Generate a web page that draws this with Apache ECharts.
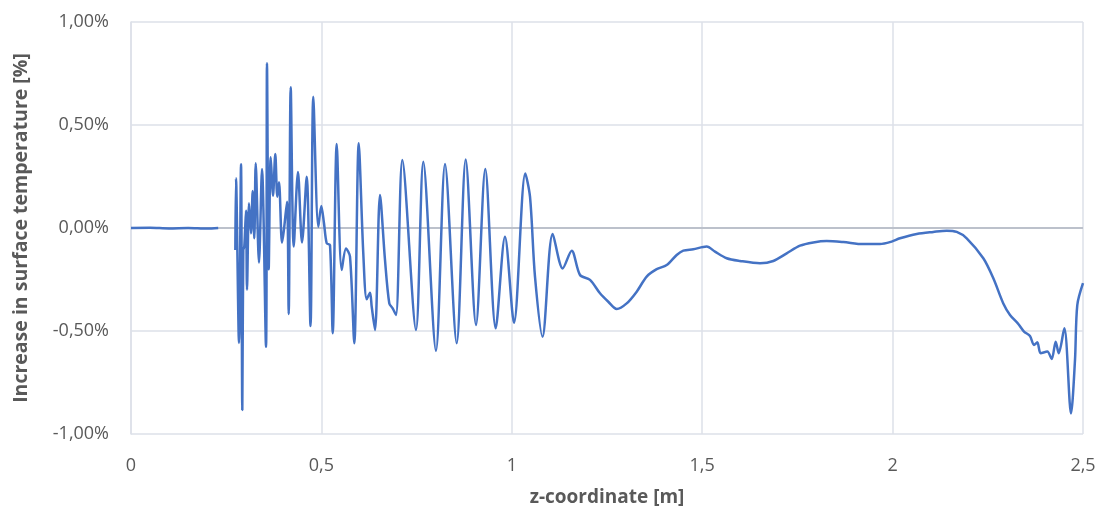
<!DOCTYPE html>
<html>
<head>
<meta charset="utf-8">
<script src="https://cdn.jsdelivr.net/npm/echarts@6/dist/echarts.min.js"></script>
<style>html,body{margin:0;padding:0;background:#fff}#c{width:1101px;height:516px}</style>
</head>
<body>
<div id="c"></div>
<script>
// z-coordinate [m]
const zCoord = [0, 0.05, 0.1, 0.15, 0.2, 0.229, 0.25,
  0.274, 0.2757, 0.2836, 0.2889, 0.2923, 0.2949, 0.2975, 0.302, 0.3046, 0.3099, 0.3151, 0.3196, 0.3238, 0.3275,
  0.3361, 0.344, 0.3545, 0.3571, 0.3616, 0.3669, 0.3729, 0.3789, 0.3842, 0.3887, 0.3965, 0.401, 0.4097, 0.4141,
  0.4194, 0.4273, 0.4385, 0.4491, 0.4614, 0.4714, 0.4787, 0.4919, 0.4997, 0.5068, 0.5139, 0.5226, 0.5297, 0.5402,
  0.5533, 0.5646, 0.5751, 0.5864, 0.598, 0.61, 0.619, 0.6276, 0.6321, 0.6408, 0.6539, 0.667, 0.6783, 0.6872, 0.6959,
  0.7125, 0.7484, 0.7676, 0.8009, 0.8246, 0.8553, 0.8789, 0.906, 0.9304, 0.9577, 0.9821, 1.0058, 1.0354, 1.0478,
  1.0609, 1.0806, 1.1074, 1.1337, 1.1573, 1.1791, 1.2054, 1.2316, 1.2534, 1.2755, 1.3017, 1.328, 1.3542, 1.3805,
  1.4068, 1.433, 1.4504, 1.4766, 1.5118, 1.5336, 1.5643, 1.5992, 1.6518, 1.6867, 1.7219, 1.7568, 1.7917, 1.8269,
  1.8705, 1.923, 1.9669, 1.9976, 2.0194, 2.0633, 2.1069, 2.1421, 2.1684, 2.1946, 2.2382, 2.2645, 2.2907, 2.3083,
  2.3301, 2.3451, 2.3608, 2.3713, 2.38, 2.3889, 2.4063, 2.4178, 2.4283, 2.4362, 2.4509, 2.4685, 2.479, 2.485, 2.5];
// increase in surface temperature [%]
const increase = [0, 0.001, -0.002, 0, -0.003, 0, null,
  -0.107, 0.241, -0.558, 0.309, -0.883, -0.107, -0.09, 0.084, -0.30, 0.12, -0.026, 0.18, -0.05, 0.314,
  -0.168, 0.286, -0.576, 0.80, -0.2, 0.343, 0.157, 0.359, 0.152, 0.222, -0.071, -0.018, 0.128, -0.417,
  0.683, -0.09, 0.272, -0.07, 0.249, -0.476, 0.637, 0.006, 0.107, 0.023, -0.074, -0.083, -0.511, 0.408,
  -0.204, -0.099, -0.139, -0.56, 0.411, -0.123, -0.346, -0.314, -0.382, -0.495, 0.16, -0.155, -0.366, -0.39, -0.422,
  0.33, -0.495, 0.322, -0.596, 0.311, -0.56, 0.333, -0.471, 0.286, -0.487, -0.042, -0.46, 0.265, 0.152,
  -0.236, -0.528, -0.029, -0.196, -0.11, -0.228, -0.252, -0.317, -0.358, -0.393, -0.366, -0.309, -0.236, -0.2,
  -0.18, -0.131, -0.11, -0.103, -0.09, -0.115, -0.147, -0.16, -0.171, -0.16, -0.123, -0.086, -0.07, -0.063,
  -0.068, -0.078, -0.078, -0.066, -0.05, -0.029, -0.019, -0.013, -0.019, -0.05, -0.147, -0.244, -0.366, -0.422,
  -0.466, -0.503, -0.524, -0.568, -0.555, -0.608, -0.6, -0.636, -0.552, -0.608, -0.487, -0.9, -0.64, -0.374, -0.268];
const xTicks = [0, 0.5, 1, 1.5, 2, 2.5];
const yTicks = [-1, -0.5, 0, 0.5, 1];

const data = zCoord.map((z, i) => [z, increase[i]]);
const fmtComma = (v, d) => (d == null ? String(v) : v.toFixed(d)).replace('.', ',');
const txt = '#595959';

const chart = echarts.init(document.getElementById('c'), null, {renderer: 'canvas'});
chart.setOption({
  animation: false,
  backgroundColor: '#ffffff',
  grid: {left: 131, right: 18, top: 22, bottom: 82},
  xAxis: {
    type: 'value', min: xTicks[0], max: xTicks[xTicks.length - 1], interval: 0.5,
    name: 'z-coordinate [m]', nameLocation: 'middle', nameGap: 54,
    nameTextStyle: {fontFamily: 'Open Sans', fontSize: 19, fontWeight: 'bold', color: txt},
    axisLine: {show: false}, axisTick: {show: false},
    axisLabel: {margin: 23, fontFamily: 'Open Sans', fontSize: 18, color: txt,
      formatter: v => fmtComma(v)},
    splitLine: {show: true, lineStyle: {color: '#dde1e8', width: 1.5}}
  },
  yAxis: {
    type: 'value', min: yTicks[0], max: yTicks[yTicks.length - 1], interval: 0.5,
    name: 'Increase in surface temperature [%]', nameLocation: 'middle', nameGap: 100,
    nameTextStyle: {fontFamily: 'Open Sans', fontSize: 19.5, fontWeight: 'bold', color: txt},
    axisLine: {show: true, lineStyle: {color: '#dde1e8', width: 1.5}}, axisTick: {show: false},
    axisLabel: {margin: 22, fontFamily: 'Open Sans', fontSize: 18, color: txt,
      formatter: v => fmtComma(v, 2) + '%'},
    splitLine: {show: true, lineStyle: {color: '#dde1e8', width: 1.5}}
  },
  series: [{
    type: 'line', data: [], z: 1,
    markLine: {silent: true, symbol: 'none', label: {show: false}, animation: false, z: 1,
      lineStyle: {color: '#bcc1cb', width: 2, type: 'solid'},
      data: [{yAxis: 0}]}
  }, {
    type: 'line', data: data, showSymbol: false, smooth: 0.3, connectNulls: false,
    lineStyle: {color: '#4472c4', width: 2.5}, z: 6
  }]
});
</script>
</body>
</html>
